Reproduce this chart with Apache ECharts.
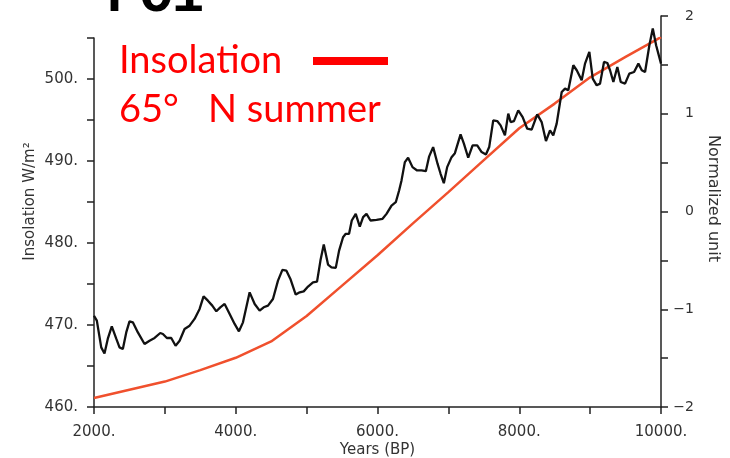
<!DOCTYPE html>
<html>
<head>
<meta charset="utf-8">
<script src="https://cdn.jsdelivr.net/npm/echarts@6/dist/echarts.min.js"></script>
<style>html,body{margin:0;padding:0;background:#fff}#main{width:730px;height:458px}</style>
</head>
<body>
<div id="main"></div>
<script>
// insolation, 65N summer (W/m2), left axis
var insolYears = [2000,2500,3000,3500,4000,4500,5000,5500,6000,6500,7000,7500,8000,8500,9000,9500,10000];
var insolValues = [461.1,462.1,463.1,464.5,466.0,468.0,471.1,474.8,478.5,482.4,486.2,490.1,494.0,497.0,500.2,502.7,505.1];

// PC1, normalized unit, right axis
var pcYears = [2000,2040,2102,2148,2195,2251,2314,2360,2407,2455,2501,2548,2619,2713,2784,2855,2935,2972,3028,3090,
  3151,3208,3278,3349,3419,3490,3546,3607,3669,3726,3782,3843,3914,3984,4045,4102,4196,4267,4337,4394,
  4455,4525,4596,4658,4715,4771,4846,4903,4959,5020,5090,5147,5195,5242,5302,5350,5411,5458,5514,5552,
  5599,5637,5693,5750,5797,5845,5901,5986,6071,6127,6198,6258,6305,6339,6386,6432,6494,6559,6621,6682,
  6729,6785,6847,6890,6936,6983,7045,7092,7172,7219,7280,7342,7407,7469,7530,7576,7633,7689,7737,7798,
  7845,7878,7925,7986,8048,8113,8175,8254,8316,8377,8434,8480,8528,8599,8646,8692,8763,8811,8881,8928,
  8989,9037,9093,9140,9196,9243,9281,9328,9384,9432,9493,9553,9620,9681,9729,9775,9836,9884,9931,10000];
var pcValues = [-1.066,-1.117,-1.390,-1.452,-1.301,-1.175,-1.301,-1.390,-1.407,-1.237,-1.124,-1.134,-1.237,-1.356,-1.322,-1.294,-1.243,-1.253,-1.294,-1.294,
  -1.373,-1.322,-1.202,-1.168,-1.099,-0.997,-0.868,-0.912,-0.963,-1.021,-0.981,-0.946,-1.048,-1.150,-1.226,-1.134,-0.827,-0.946,-1.014,-0.980,
  -0.963,-0.895,-0.707,-0.597,-0.605,-0.690,-0.850,-0.827,-0.817,-0.768,-0.724,-0.717,-0.502,-0.338,-0.543,-0.571,-0.577,-0.400,-0.263,-0.228,
  -0.228,-0.092,-0.024,-0.154,-0.058,-0.024,-0.092,-0.085,-0.075,-0.024,0.061,0.095,0.215,0.318,0.505,0.550,0.454,0.420,0.420,0.413,
  0.564,0.659,0.489,0.386,0.290,0.454,0.556,0.597,0.789,0.694,0.550,0.676,0.676,0.608,0.584,0.659,0.932,0.925,0.881,0.779,
  1.001,0.915,0.925,1.035,0.966,0.847,0.837,0.994,0.915,0.720,0.830,0.779,0.899,1.222,1.257,1.240,1.496,1.445,1.342,1.513,
  1.632,1.360,1.291,1.308,1.530,1.519,1.445,1.325,1.478,1.325,1.308,1.411,1.427,1.513,1.445,1.427,1.701,1.872,1.701,1.513];

var xTickLabels = ['2000.','4000.','6000.','8000.','10000.'];
var leftTickLabels = ['460.','470.','480.','490.','500.'];
var rightTicks = [-2,-1,0,1,2];
var rightTickLabels = ['\u22122','\u22121','0','1','2'];

var axisColor = '#222';
var labelFont = 'DejaVu Sans';

function pairs(xs, ys){
  var out = [];
  for(var i = 0; i < xs.length; i++){
    out.push([xs[i], ys[i]]);
  }
  return out;
}

var chart = echarts.init(document.getElementById('main'));
chart.setOption({
  animation: false,
  grid: [
    {left: 94, right: 69, top: 16, bottom: 51, outerBoundsMode: 'none'},
    {left: 94, right: 69, top: 38, bottom: 51, outerBoundsMode: 'none'}
  ],
  xAxis: [{
    gridIndex: 0, type: 'value', min: 2000, max: 10000, interval: 1000,
    name: 'Years (BP)', nameLocation: 'middle', nameGap: 36, nameMoveOverlap: false,
    nameTextStyle: {fontFamily: labelFont, fontSize: 15, color: '#333'},
    axisLine: {onZero: false, lineStyle: {color: axisColor, width: 1.5}},
    axisTick: {length: 7, lineStyle: {color: axisColor, width: 1.5}},
    axisLabel: {
      margin: 18, fontFamily: labelFont, fontSize: 15, color: '#333',
      formatter: function(v){
        var s = v + '.';
        return xTickLabels.indexOf(s) >= 0 ? s : '';
      }
    },
    splitLine: {show: false}
  }, {
    gridIndex: 1, type: 'value', min: 2000, max: 10000, show: false
  }],
  yAxis: [{
    gridIndex: 0, type: 'value', position: 'right', min: -2, max: 2, interval: 0.5,
    name: 'Normalized unit', nameLocation: 'middle', nameRotate: -90, nameGap: 44, nameMoveOverlap: false,
    nameTextStyle: {fontFamily: labelFont, fontSize: 16, color: '#333', padding: [0, 26, 0, 0]},
    axisLine: {show: true, onZero: false, lineStyle: {color: axisColor, width: 1.5}},
    axisTick: {show: true, length: 7, lineStyle: {color: axisColor, width: 1.5}},
    axisLabel: {
      margin: 33, align: 'right', fontFamily: labelFont, fontSize: 14, color: '#333',
      formatter: function(v){
        var i = rightTicks.indexOf(v);
        return i >= 0 ? rightTickLabels[i] : '';
      }
    },
    splitLine: {show: false}
  }, {
    gridIndex: 1, type: 'value', position: 'left', min: 460, max: 505, interval: 5,
    name: 'Insolation W/m\u00b2', nameLocation: 'middle', nameGap: 56, nameMoveOverlap: false,
    nameTextStyle: {fontFamily: labelFont, fontSize: 15, color: '#333', padding: [0, 0, 0, 42]},
    axisLine: {show: true, onZero: false, lineStyle: {color: axisColor, width: 1.5}},
    axisTick: {show: true, length: 7, lineStyle: {color: axisColor, width: 1.5}},
    axisLabel: {
      margin: 16, fontFamily: labelFont, fontSize: 15, color: '#333',
      formatter: function(v){
        var s = v + '.';
        return leftTickLabels.indexOf(s) >= 0 ? s : '';
      }
    },
    splitLine: {show: false}
  }],
  series: [{
    name: 'Insolation', type: 'line', xAxisIndex: 1, yAxisIndex: 1,
    data: pairs(insolYears, insolValues), symbol: 'none', z: 2,
    lineStyle: {color: '#f0502d', width: 2.5}
  }, {
    name: 'PC1', type: 'line', xAxisIndex: 0, yAxisIndex: 0,
    data: pairs(pcYears, pcValues), symbol: 'none', z: 3,
    lineStyle: {color: '#111', width: 2.3}
  }],
  graphic: [
    {type: 'text', x: 107, y: -3, style: {text: 'PC1', font: 'bold 54px "Liberation Mono"', fill: '#000', verticalAlign: 'middle'}},
    {type: 'text', x: 119, y: 61, style: {text: 'Insolation', font: '38px Lato', fill: '#ff0000', verticalAlign: 'middle'}},
    {type: 'text', x: 119, y: 110, style: {text: '65\u00b0   N summer', font: '38px Lato', fill: '#ff0000', verticalAlign: 'middle'}},
    {type: 'rect', shape: {x: 313, y: 57, width: 75, height: 8}, style: {fill: '#ff0000'}}
  ]
});
</script>
</body>
</html>
